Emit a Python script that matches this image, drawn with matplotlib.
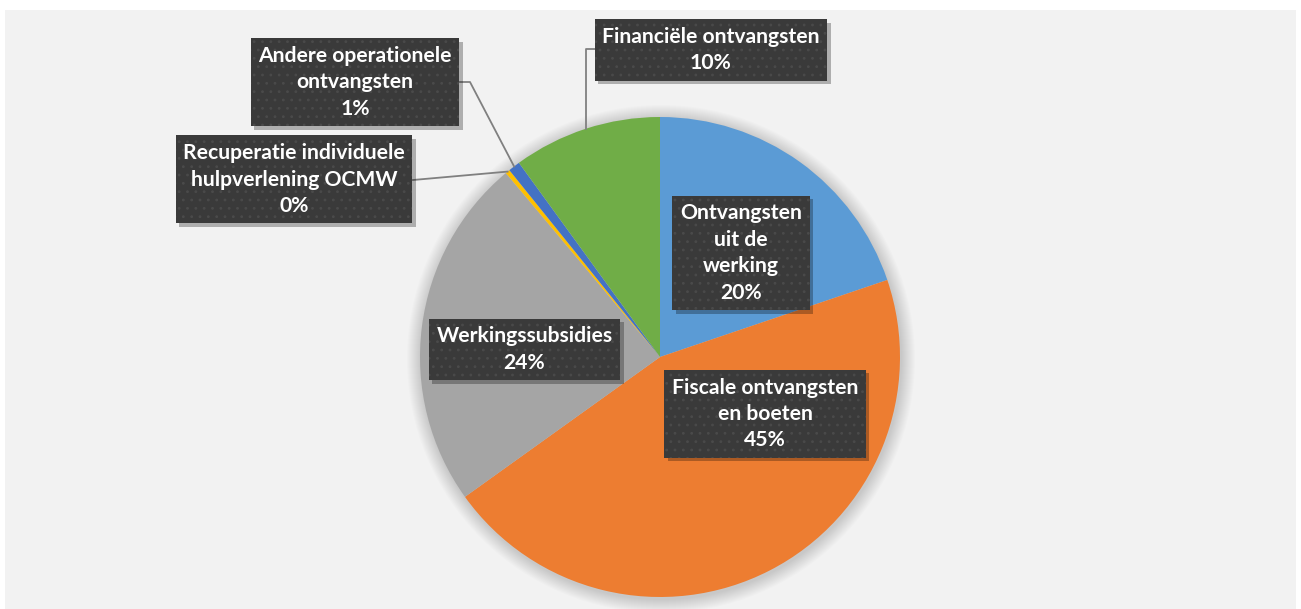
import numpy as np
import matplotlib
matplotlib.use("Agg")
import matplotlib.pyplot as plt
import matplotlib.patheffects as pe
from matplotlib.patches import Rectangle, Circle

# data (share of total, %)
categories = ["Ontvangsten\nuit de\nwerking",
              "Fiscale ontvangsten\nen boeten",
              "Werkingssubsidies",
              "Recuperatie individuele\nhulpverlening OCMW",
              "Andere operationele\nontvangsten",
              "Financiële ontvangsten"]
values = [19.8, 45.3, 23.8, 0.3, 0.8, 10.0]
colors = ["#5B9BD5", "#ED7D31", "#A5A5A5", "#FFC000", "#4472C4", "#70AD47"]


class PlainShadow(pe.SimplePatchShadow):
    """box shadow without the dotted hatch"""
    def draw_path(self, renderer, gc, tpath, affine, rgbFace):
        gc0 = renderer.new_gc()
        gc0.copy_properties(gc)
        gc0.set_hatch(None)
        super().draw_path(renderer, gc0, tpath, affine, rgbFace)
        gc0.restore()


W, H = 1301, 609
fig = plt.figure(figsize=(W / 100, H / 100), dpi=100)
fig.patch.set_facecolor("white")
ax = fig.add_axes([0, 0, 1, 1])

# chart area background
ax.add_patch(Rectangle((5, 0), W - 10, H - 10, facecolor="#F2F2F2", edgecolor="none", zorder=0))

cx, cy, r = 660, H - 357, 240

# soft shadow round the pie
for i in range(14):
    ax.add_patch(Circle((cx + 1, cy - 2), r + 14 - i, facecolor="black", alpha=0.012,
                        edgecolor="none", zorder=1))

wedges, _ = ax.pie(values, colors=colors, startangle=90, counterclock=False,
                   center=(cx, cy), radius=r, frame=True,
                   wedgeprops=dict(linewidth=0, zorder=2))
ax.set_xlim(0, W)
ax.set_ylim(0, H)
ax.set_aspect("equal")
ax.axis("off")

total = sum(values)
pcts = [f"{round(v / total * 100):.0f}%" for v in values]

# label box centres (pixels from top-left)
label_pos = [(741, 253), (765, 414), (524.5, 349.5), (294, 179.5), (355, 82.5), (711, 50)]

plt.rcParams["hatch.linewidth"] = 0.8
font = dict(family=["Lato", "DejaVu Sans"], fontweight="bold", fontsize=15.2)

for lab, pct, (px, py) in zip(categories, pcts, label_pos):
    t = ax.text(px, H - py, lab + "\n" + pct, ha="center", va="center",
                multialignment="center", color="white", linespacing=1.4, zorder=6,
                bbox=dict(boxstyle="square,pad=0.36", facecolor="#3A3A3A",
                          edgecolor="#4A4A4A", linewidth=0, hatch=".."), **font)
    t.get_bbox_patch().set_path_effects(
        [PlainShadow(offset=(2.5, -2.5), shadow_rgbFace="black", alpha=0.28),
         pe.Normal()])

# leader lines for the outside labels
def anchor(w):
    a = np.deg2rad((w.theta1 + w.theta2) / 2)
    return cx + r * np.cos(a), cy + r * np.sin(a)

lc = dict(color="#808080", linewidth=1.3, zorder=4)
x0, y0 = anchor(wedges[5])
ax.plot([x0, x0, 595], [y0, H - 49, H - 49], **lc)
x0, y0 = anchor(wedges[4])
ax.plot([x0, 470, 460], [y0, H - 82, H - 82], **lc)
x0, y0 = anchor(wedges[3])
ax.plot([x0, 413], [y0, H - 180], **lc)

fig.savefig("out.png", dpi=100, facecolor=fig.get_facecolor())
